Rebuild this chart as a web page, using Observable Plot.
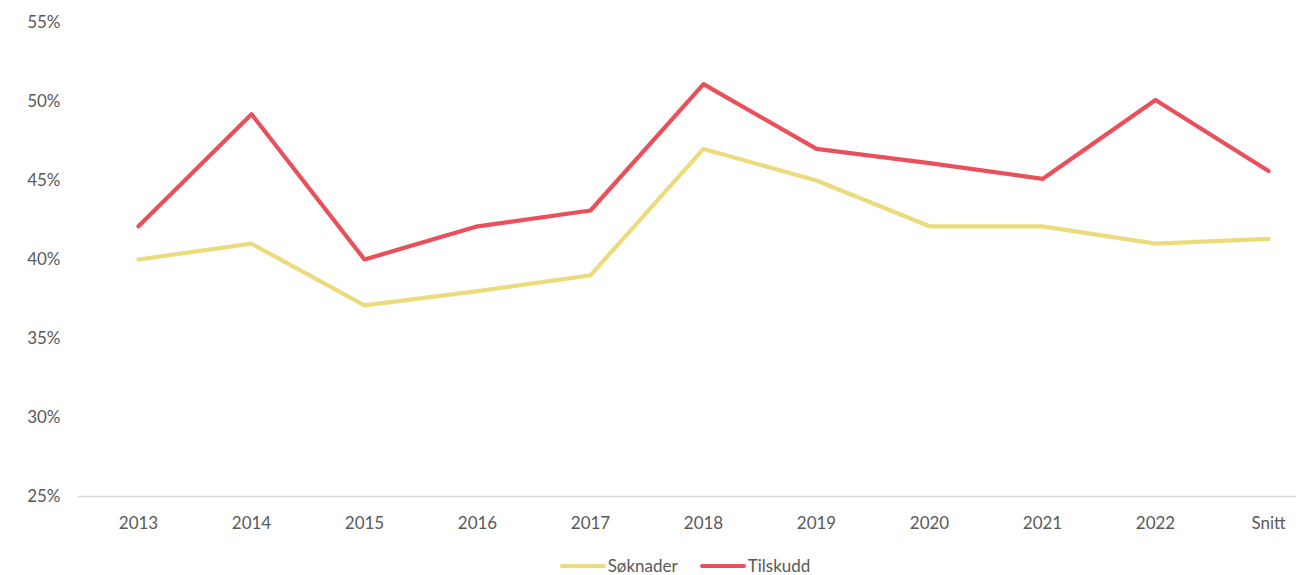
<!DOCTYPE html>
<html>
<head>
<meta charset="utf-8">
<script src="https://cdn.jsdelivr.net/npm/d3@7"></script>
<script src="https://cdn.jsdelivr.net/npm/@observablehq/plot@0.6"></script>
<style>
  html, body { margin: 0; padding: 0; background: #fff; }
  #chart { width: 1296px; }
  .legend { display: flex; justify-content: center; align-items: center; gap: 22px; height: 35px; box-sizing: border-box;
            padding-left: 74px; padding-top: 16px; font-family: Lato, "Open Sans", sans-serif; font-size: 17px; line-height: 19px; color: #595959; }
  .legend .item { display: flex; align-items: center; gap: 2px; }
  .legend .sw { width: 46px; height: 4px; border-radius: 2px; display: inline-block; }
</style>
</head>
<body>
<div id="chart"></div>
<script>
const categories = ["2013","2014","2015","2016","2017","2018","2019","2020","2021","2022","Snitt"];
const soknader = [40.0, 41.0, 37.1, 38.0, 39.0, 47.0, 45.0, 42.1, 42.1, 41.0, 41.3];
const tilskudd = [42.1, 49.2, 40.0, 42.1, 43.1, 51.1, 47.0, 46.1, 45.1, 50.1, 45.6];
const seriesNames = ["Søknader", "Tilskudd"];
const seriesColors = ["#ebdb7d", "#e9505c"];
const yTicks = [25, 30, 35, 40, 45, 50, 55];

const data = [];
categories.forEach((c, i) => {
  data.push({cat: c, series: seriesNames[0], value: soknader[i]});
  data.push({cat: c, series: seriesNames[1], value: tilskudd[i]});
});

const chart = Plot.plot({
  width: 1296,
  height: 540,
  marginLeft: 78,
  marginRight: 0,
  marginTop: 22,
  marginBottom: 44,
  style: {fontFamily: "Lato, 'Open Sans', sans-serif", fontSize: "17px", color: "#595959", background: "#fff"},
  x: {type: "point", domain: categories, padding: 0, insetLeft: 57, insetRight: 26, label: null, tickSize: 0, tickPadding: 20},
  y: {domain: [25, 55], ticks: yTicks, tickFormat: d => d + "%", label: null, tickSize: 0, tickPadding: 18},
  color: {domain: seriesNames, range: seriesColors},
  marks: [
    Plot.ruleY([25], {stroke: "#d9d9d9", strokeWidth: 1.3}),
    Plot.line(data, {x: "cat", y: "value", z: "series", stroke: "series", strokeWidth: 4.2, strokeLinejoin: "round", strokeLinecap: "round"})
  ]
});
document.getElementById("chart").appendChild(chart);

const legend = document.createElement("div");
legend.className = "legend";
seriesNames.forEach((n, i) => {
  const it = document.createElement("div");
  it.className = "item";
  const sw = document.createElement("span");
  sw.className = "sw";
  sw.style.background = seriesColors[i];
  const t = document.createElement("span");
  t.textContent = n;
  it.appendChild(sw); it.appendChild(t);
  legend.appendChild(it);
});
document.getElementById("chart").appendChild(legend);
</script>
</body>
</html>
